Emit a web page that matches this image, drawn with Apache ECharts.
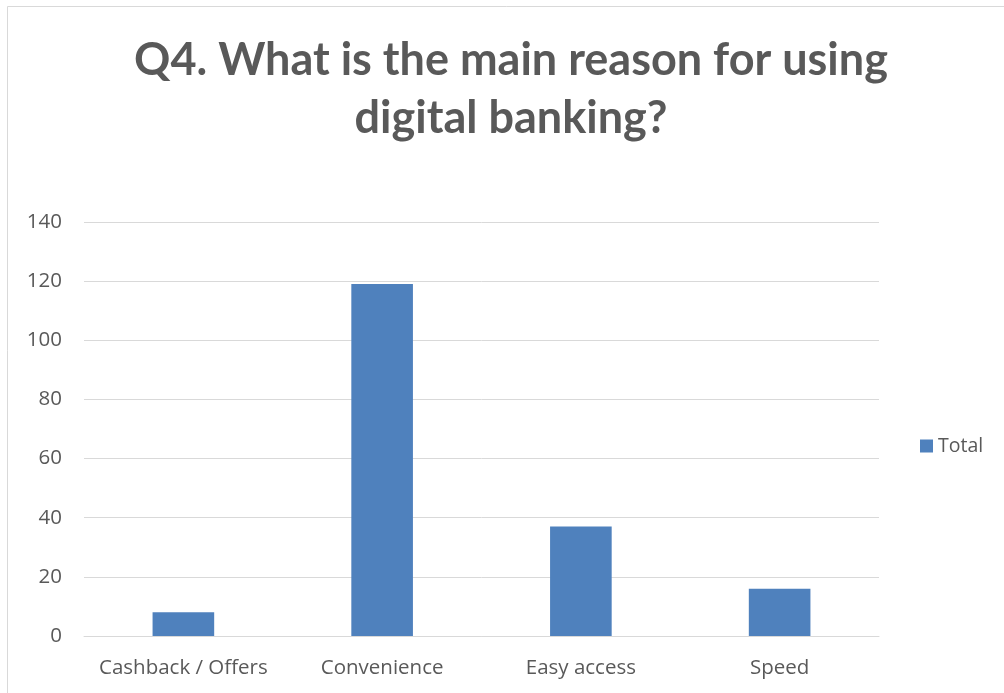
<!DOCTYPE html>
<html>
<head>
<meta charset="utf-8">
<style>
  html, body { margin: 0; padding: 0; background: #fff; }
  #chart { width: 1004px; height: 693px; }
</style>
<script src="https://cdn.jsdelivr.net/npm/echarts@6/dist/echarts.min.js"></script>
</head>
<body>
<div id="chart"></div>
<script>
const titleText = 'Q4. What is the main reason for using\ndigital banking?';
const categories = ['Cashback / Offers', 'Convenience', 'Easy access', 'Speed'];
const totals = [8, 119, 37, 16];
const seriesName = 'Total';

const chart = echarts.init(document.getElementById('chart'), null, { renderer: 'canvas' });
const textColor = '#595959';
const titleFont = 'Lato, "Open Sans", "Liberation Sans", sans-serif';
const labelFont = '"Open Sans", "Noto Sans", "Liberation Sans", sans-serif';

chart.setOption({
  animation: false,
  backgroundColor: '#ffffff',
  graphic: [{
    type: 'rect',
    shape: { x: 7.5, y: 6.5, width: 1010, height: 700 },
    style: { fill: 'none', stroke: '#d9d9d9', lineWidth: 1 },
    silent: true
  }],
  title: {
    text: titleText,
    left: 511,
    top: 31,
    padding: 0,
    textAlign: 'center',
    textStyle: {
      fontFamily: titleFont,
      fontWeight: 'bold',
      fontSize: 45,
      lineHeight: 58,
      color: textColor
    }
  },
  legend: {
    data: [seriesName],
    orient: 'vertical',
    left: 915,
    top: 431,
    itemWidth: 13,
    itemHeight: 13,
    itemGap: 5,
    icon: 'rect',
    textStyle: { fontFamily: labelFont, fontSize: 19.5, color: textColor }
  },
  grid: { left: 84, right: 125, top: 222, bottom: 57, containLabel: false },
  xAxis: {
    type: 'category',
    data: categories,
    axisLine: { lineStyle: { color: '#d9d9d9', width: 1 } },
    axisTick: { show: false },
    axisLabel: { interval: 0, fontFamily: labelFont, fontSize: 20.5, color: textColor, margin: 22 }
  },
  yAxis: {
    type: 'value',
    min: 0,
    max: 140,
    interval: 20,
    axisLine: { show: false },
    axisTick: { show: false },
    splitLine: { lineStyle: { color: '#d9d9d9', width: 1 } },
    axisLabel: { fontFamily: labelFont, fontSize: 20.5, color: textColor, margin: 22 }
  },
  series: [{
    name: seriesName,
    type: 'bar',
    data: totals,
    barWidth: '31%',
    itemStyle: { color: '#4f81bd' }
  }]
});
</script>
</body>
</html>
